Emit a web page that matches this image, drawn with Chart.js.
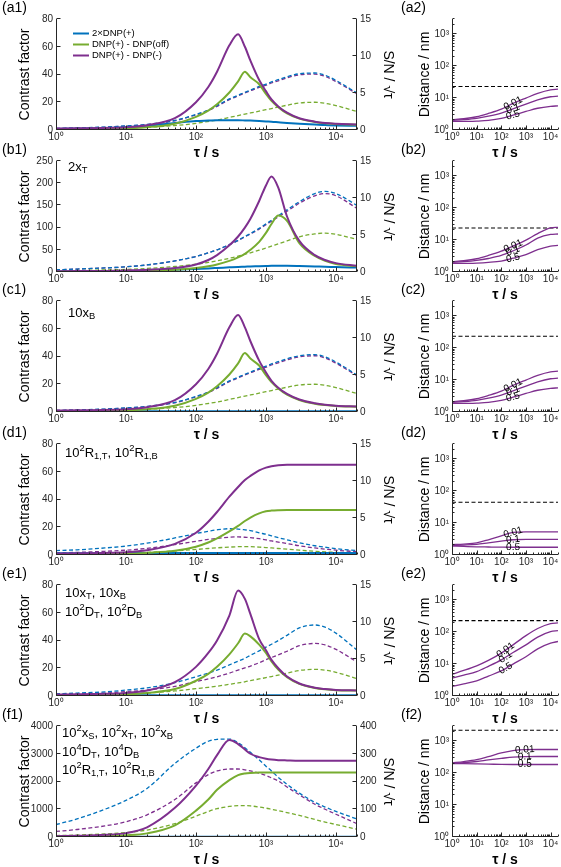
<!DOCTYPE html>
<html>
<head>
<meta charset="utf-8">
<script src="https://cdn.jsdelivr.net/npm/chart.js@4.4.0/dist/chart.umd.min.js"></script>
<style>
  body { margin: 0; width: 561px; height: 867px; position: relative; overflow: hidden; background: #fff;
         font-family: "Liberation Sans", Arial, sans-serif; }
  canvas { position: absolute; }
  .plabel { position: absolute; font-size: 14px; line-height: 16px; color: #000; }
</style>
</head>
<body>
<script>
// 横軸 τ (s)
const tau = [1, 2, 5, 10, 20, 50, 100, 150, 200, 300, 400, 500, 600, 800, 1000, 1200, 1500, 2000, 3000, 5000, 7000, 10000, 20000];
const tauR = [1, 3, 10, 30, 100, 300, 1000, 3000, 10000, 20000];

// (a1)
const a1Purple = [1, 1.2, 1.5, 2, 3.5, 8.5, 20, 31, 42, 61, 69, 60, 50, 36, 28, 22, 17, 12.5, 8.5, 6, 5, 4.5, 4];
const a1Green = [0.5, 0.6, 0.8, 1.2, 2, 4.5, 9.5, 14, 18.5, 27, 35, 42, 38, 33, 26, 21, 16.5, 12, 8.2, 5.8, 4.8, 4.3, 3.8];
const a1Blue = [0.8, 1, 1.4, 2, 3, 5, 6.5, 6.8, 7, 7, 7, 6.9, 6.8, 6.5, 6.2, 6, 5.6, 5.1, 4.5, 3.9, 3.6, 3.3, 3];
const a1BlueSN = [0.2, 0.28, 0.4, 0.55, 0.75, 1.3, 2.1, 2.7, 3.3, 4.2, 4.7, 5.1, 5.4, 5.9, 6.2, 6.5, 6.8, 7.2, 7.6, 7.7, 7.4, 6.7, 5.0];
const a1PurpleSN = [0.2, 0.27, 0.38, 0.53, 0.72, 1.25, 2.05, 2.65, 3.2, 4.1, 4.6, 5.0, 5.3, 5.75, 6.05, 6.35, 6.65, 7.05, 7.45, 7.55, 7.25, 6.55, 4.9];
const a1GreenSN = [0.1, 0.13, 0.2, 0.27, 0.37, 0.6, 0.9, 1.15, 1.35, 1.7, 1.95, 2.15, 2.3, 2.55, 2.75, 2.9, 3.1, 3.35, 3.65, 3.75, 3.6, 3.3, 2.5];

// (b1)
const b1Purple = [1.5, 2, 2.5, 3.5, 5, 9, 17, 27, 38, 60, 80, 100, 120, 160, 195, 215, 190, 125, 70, 38, 27, 20, 14];
const b1Green = [0.5, 0.7, 1, 1.5, 2.5, 5, 9, 13, 17, 25, 33, 41, 50, 68, 88, 108, 127, 115, 65, 36, 25, 18, 13];
const b1Blue = [1, 1.2, 1.6, 2, 3, 5, 7, 8, 9, 10.5, 11.5, 12, 12.5, 13, 13.5, 14, 14, 14, 13.5, 12.5, 12, 11, 10];
const b1BlueSN = [0.3, 0.4, 0.55, 0.7, 0.95, 1.5, 2.1, 2.6, 3.0, 3.7, 4.3, 4.8, 5.2, 5.9, 6.5, 7.0, 7.6, 8.4, 9.5, 10.6, 10.9, 10.6, 9.0];
const b1PurpleSN = [0.3, 0.4, 0.55, 0.7, 0.95, 1.5, 2.1, 2.6, 3.0, 3.7, 4.25, 4.75, 5.15, 5.8, 6.4, 6.85, 7.45, 8.2, 9.3, 10.3, 10.6, 10.3, 8.6];
const b1GreenSN = [0.15, 0.2, 0.28, 0.35, 0.48, 0.75, 1.05, 1.3, 1.5, 1.85, 2.15, 2.4, 2.6, 2.95, 3.25, 3.5, 3.8, 4.2, 4.75, 5.15, 5.25, 5.1, 4.4];

// (c1)
const c1Purple = [1, 1.2, 1.5, 2, 3.5, 8.5, 20, 31, 42, 61, 70, 61, 51, 37, 28.5, 22.5, 17.5, 13, 9, 6.3, 5.2, 4.5, 4];
const c1Green = [0.5, 0.6, 0.8, 1.2, 2, 4.5, 9.5, 14, 18.5, 27, 35, 42.5, 38.5, 33.5, 26.5, 21.5, 17, 12.5, 8.7, 6, 5, 4.3, 3.8];
const c1Blue = [0.5, 0.5, 0.5, 0.5, 0.5, 0.5, 0.5, 0.5, 0.5, 0.5, 0.5, 0.5, 0.5, 0.5, 0.5, 0.5, 0.5, 0.5, 0.5, 0.5, 0.5, 0.5, 0.5];
const c1BlueSN = [0.2, 0.28, 0.4, 0.55, 0.75, 1.3, 2.1, 2.7, 3.3, 4.2, 4.7, 5.1, 5.4, 5.9, 6.2, 6.5, 6.8, 7.2, 7.6, 7.75, 7.45, 6.75, 5.0];
const c1PurpleSN = [0.2, 0.27, 0.38, 0.53, 0.72, 1.25, 2.05, 2.65, 3.2, 4.1, 4.6, 5.0, 5.3, 5.75, 6.05, 6.35, 6.65, 7.05, 7.45, 7.6, 7.3, 6.6, 4.9];
const c1GreenSN = [0.1, 0.13, 0.2, 0.27, 0.37, 0.6, 0.9, 1.15, 1.35, 1.7, 1.95, 2.15, 2.3, 2.55, 2.75, 2.9, 3.1, 3.35, 3.65, 3.75, 3.6, 3.3, 2.5];

// (d1)
const d1Purple = [1, 1.2, 1.5, 2, 3.5, 8, 16, 24, 31, 42, 49, 54, 57, 61, 63, 64, 64.7, 65, 65, 65, 65, 65, 65];
const d1Green = [0.3, 0.4, 0.6, 0.8, 1.5, 3, 6, 9, 12, 17, 21, 24.5, 27, 30, 31.5, 32, 32.3, 32.5, 32.5, 32.5, 32.5, 32.5, 32.5];
const d1Blue = [1.2, 1.3, 1.4, 1.5, 1.5, 1.5, 1.5, 1.5, 1.5, 1.5, 1.5, 1.5, 1.5, 1.5, 1.5, 1.5, 1.5, 1.5, 1.5, 1.5, 1.5, 1.5, 1.5];
const d1BlueSN = [0.6, 0.7, 0.95, 1.2, 1.6, 2.3, 2.9, 3.2, 3.4, 3.55, 3.5, 3.4, 3.3, 3.0, 2.8, 2.6, 2.35, 2.05, 1.65, 1.25, 1.05, 0.85, 0.6];
const d1PurpleSN = [0.3, 0.35, 0.5, 0.65, 0.9, 1.4, 1.85, 2.1, 2.25, 2.4, 2.45, 2.4, 2.35, 2.2, 2.05, 1.9, 1.75, 1.55, 1.25, 0.95, 0.8, 0.65, 0.45];
const d1GreenSN = [0.1, 0.12, 0.18, 0.25, 0.35, 0.55, 0.75, 0.88, 0.97, 1.07, 1.12, 1.13, 1.12, 1.07, 1.0, 0.95, 0.88, 0.8, 0.65, 0.5, 0.42, 0.35, 0.25];

// (e1)
const e1Purple = [1, 1.2, 1.6, 2.2, 4, 10, 21, 31, 40, 58, 76, 70, 59, 41, 33, 26, 20, 14, 9, 6, 5, 4.3, 4];
const e1Green = [0.5, 0.6, 0.8, 1.2, 2.2, 5, 11, 16, 21, 30, 38, 45, 43, 37, 31, 25, 19, 13.5, 8.7, 5.8, 4.8, 4.2, 3.9];
const e1Blue = [0.5, 0.5, 0.5, 0.5, 0.5, 0.5, 0.5, 0.5, 0.5, 0.5, 0.5, 0.5, 0.5, 0.5, 0.5, 0.5, 0.5, 0.5, 0.5, 0.5, 0.5, 0.5, 0.5];
const e1BlueSN = [0.3, 0.4, 0.55, 0.8, 1.1, 1.8, 2.6, 3.1, 3.5, 4.2, 4.7, 5.1, 5.5, 6.1, 6.6, 7.0, 7.5, 8.2, 9.2, 9.6, 9.3, 8.5, 6.2];
const e1PurpleSN = [0.25, 0.3, 0.4, 0.6, 0.8, 1.3, 1.95, 2.3, 2.6, 3.1, 3.5, 3.8, 4.05, 4.5, 4.9, 5.2, 5.55, 6.05, 6.8, 7.1, 6.9, 6.3, 4.6];
const e1GreenSN = [0.1, 0.15, 0.2, 0.3, 0.4, 0.68, 1.0, 1.17, 1.32, 1.58, 1.77, 1.92, 2.07, 2.3, 2.48, 2.63, 2.82, 3.08, 3.45, 3.6, 3.5, 3.2, 2.35];

// (f1)
const f1Purple = [30, 45, 80, 140, 350, 1050, 1850, 2450, 2950, 3500, 3350, 3150, 3000, 2880, 2820, 2790, 2770, 2760, 2750, 2750, 2750, 2750, 2750];
const f1Green = [15, 20, 35, 60, 130, 420, 950, 1350, 1700, 2050, 2230, 2290, 2310, 2320, 2320, 2320, 2320, 2320, 2320, 2320, 2320, 2320, 2320];
const f1Blue = [8, 8, 8, 8, 8, 8, 8, 8, 8, 8, 8, 8, 8, 8, 8, 8, 8, 8, 8, 8, 8, 8, 8];
const f1BlueSN = [45, 65, 100, 132, 175, 265, 320, 345, 352, 353, 340, 322, 305, 278, 255, 238, 215, 190, 158, 125, 108, 92, 65];
const f1PurpleSN = [20, 27, 40, 55, 80, 135, 195, 225, 238, 245, 245, 242, 238, 230, 222, 213, 202, 180, 152, 118, 100, 82, 48];
const f1GreenSN = [5, 7, 11, 16, 25, 48, 75, 92, 102, 110, 113, 113, 112, 108, 104, 100, 95, 88, 78, 63, 54, 45, 28];

// 右側 Distance / nm
const fracLabels = ["0.01", "0.1", "0.5"];
const a2Dist = [[2.1, 2.25, 2.6, 3.3, 4.5, 6.8, 10, 14, 18, 19], [2.0, 2.1, 2.3, 2.7, 3.4, 4.6, 6.5, 8.8, 11, 11.5], [1.85, 1.85, 1.9, 2.0, 2.3, 2.9, 3.8, 4.8, 5.5, 5.7]];
const b2Dist = [[2.1, 2.25, 2.6, 3.3, 4.5, 6.5, 10, 16, 24, 25], [2.0, 2.1, 2.3, 2.65, 3.3, 4.6, 7, 11.5, 15, 15.5], [1.85, 1.85, 1.9, 2.0, 2.2, 2.7, 3.5, 5, 6.5, 6.8]];
const c2Dist = [[2.1, 2.25, 2.6, 3.3, 4.5, 6.8, 10, 14, 18, 19], [2.0, 2.1, 2.3, 2.7, 3.4, 4.6, 6.5, 8.8, 11, 11.5], [1.85, 1.85, 1.9, 2.0, 2.3, 2.9, 3.8, 4.8, 5.5, 5.7]];
const d2Dist = [[2.1, 2.2, 2.4, 3.0, 4.0, 5.1, 5.3, 5.3, 5.3, 5.3], [2.0, 2.05, 2.15, 2.4, 2.7, 3.0, 3.1, 3.1, 3.1, 3.1], [1.9, 1.85, 1.8, 1.78, 1.76, 1.75, 1.75, 1.75, 1.75, 1.75]];
const e2Dist = [[4.8, 6.3, 8.8, 13, 22, 40, 78, 130, 185, 194], [3.6, 4.5, 5.8, 8.5, 13.5, 23, 40, 70, 103, 111], [2.0, 2.4, 3.0, 4.2, 6.1, 10, 17, 30, 45, 51]];
const f2Dist = [[210, 230, 265, 330, 430, 510, 545, 550, 550, 550], [205, 215, 232, 260, 290, 318, 330, 332, 332, 332], [200, 198, 195, 192, 188, 187, 187, 187, 187, 187]];
const distLimit = [23, 24, 235, 45, 230, 2200];

const FONT = '"Liberation Sans", Arial, sans-serif';
const BLUE = "#0072BD", GREEN = "#77AC30", PURPLE = "#7E2F8E", AX = "#262626";
const SUP = ["⁰", "¹", "²", "³", "⁴"];
const plotTops = [19, 161, 301, 444, 585, 726];
const PH = 111;
const extra = new WeakMap();

function addCanvas(x, y, w, h) {
  const c = document.createElement("canvas");
  c.width = w;
  c.height = h;
  c.style.left = x + "px";
  c.style.top = y + "px";
  document.body.appendChild(c);
  return c;
}

function pts(xs, ys) {
  return xs.map((x, i) => ({ x: x, y: ys[i] }));
}

function series(data, color, dashed, axis, label, width) {
  return {
    label: label,
    data: data,
    yAxisID: axis,
    borderColor: color,
    backgroundColor: color,
    borderWidth: width || (dashed ? 1.3 : 2),
    borderDash: dashed ? [4, 2.5] : [],
    pointRadius: 0,
    cubicInterpolationMode: "monotone",
    fill: false,
  };
}

// 上付き・下付きの文字列
function richText(ctx, parts, x, y, size) {
  parts.forEach(([t, m]) => {
    const s = m ? size * 0.72 : size;
    ctx.font = s + "px " + FONT;
    const dy = m === "sup" ? -size * 0.36 : m === "sub" ? size * 0.28 : 0;
    ctx.fillText(t, x, y + dy);
    x += ctx.measureText(t).width;
  });
}

function logX() {
  return {
    type: "logarithmic",
    min: 1,
    max: 20000,
    afterBuildTicks: (s) => { s.ticks = [1, 10, 100, 1000, 10000].map((v) => ({ value: v })); },
    afterFit: (s) => { s.height = 34; },
    grid: { display: false, drawTicks: false },
    border: { display: false },
    ticks: {
      autoSkip: false, maxRotation: 0, padding: 1, color: AX,
      font: { family: FONT, size: 10 },
      callback: (v) => "10" + SUP[Math.round(Math.log10(v))],
    },
    title: { display: true, text: "τ / s", color: "#000", font: { family: FONT, size: 14, weight: "bold" }, padding: { top: 0, bottom: 2.6 } },
  };
}

function yTitle(text, pad) {
  return { display: true, text: text, color: "#000", font: { family: FONT, size: 14 }, padding: { top: pad, bottom: 0 } };
}

// 軸線と内向きの目盛り
const frame = {
  id: "frame",
  afterDatasetsDraw(chart) {
    const { ctx, chartArea: a, scales } = chart;
    const L = Math.round(a.left) + 0.5, B = Math.round(a.bottom) - 0.5, R = Math.round(a.right) - 0.5;
    ctx.save();
    ctx.strokeStyle = AX;
    ctx.lineWidth = 1;
    ctx.beginPath();
    ctx.moveTo(L, a.top);
    ctx.lineTo(L, B);
    ctx.lineTo(a.right, B);
    if (scales.y2) {
      ctx.moveTo(R, a.top);
      ctx.lineTo(R, B);
    }
    const x = scales.x;
    for (let e = 0; e <= 4; e++) {
      for (let m = 1; m <= 9; m++) {
        const v = m * Math.pow(10, e);
        if (v > x.max) break;
        const px = Math.round(x.getPixelForValue(v)) + 0.5;
        ctx.moveTo(px, B);
        ctx.lineTo(px, B - (m === 1 ? 4 : 2));
      }
    }
    const y = scales.y;
    if (y.type === "logarithmic") {
      for (let e = 0; e <= 3; e++) {
        for (let m = 1; m <= 9; m++) {
          const v = m * Math.pow(10, e);
          if (v > y.max) break;
          const py = Math.round(y.getPixelForValue(v)) - 0.5;
          ctx.moveTo(L, py);
          ctx.lineTo(L + (m === 1 ? 4 : 2), py);
        }
      }
    } else {
      y.ticks.forEach((t) => {
        const py = Math.round(y.getPixelForValue(t.value)) - 0.5;
        ctx.moveTo(L, py);
        ctx.lineTo(L + 4, py);
      });
    }
    if (scales.y2) {
      scales.y2.ticks.forEach((t) => {
        const py = Math.round(scales.y2.getPixelForValue(t.value)) - 0.5;
        ctx.moveTo(R, py);
        ctx.lineTo(R - 4, py);
      });
    }
    ctx.stroke();
    ctx.restore();
  },
};

// 注記・凡例・曲線ラベル
const notes = {
  id: "notes",
  afterDraw(chart) {
    const opt = extra.get(chart.canvas);
    if (!opt) return;
    const { ctx, chartArea: a } = chart;
    ctx.save();
    ctx.textBaseline = "middle";
    ctx.fillStyle = "#000";
    (opt.lines || []).forEach((ln) => richText(ctx, ln.parts, a.left + ln.dx, a.top + ln.dy, 13));
    if (opt.legend) {
      opt.legend.forEach((idx, k) => {
        const ds = chart.data.datasets[idx];
        const yy = a.top + 14.5 + k * 11;
        ctx.strokeStyle = ds.borderColor;
        ctx.lineWidth = 2;
        ctx.beginPath();
        ctx.moveTo(a.left + 17, yy);
        ctx.lineTo(a.left + 33, yy);
        ctx.stroke();
        ctx.fillStyle = "#000";
        ctx.font = "9.5px " + FONT;
        ctx.fillText(ds.label, a.left + 36, yy);
      });
    }
    if (opt.labelTau) {
      ctx.font = "10px " + FONT;
      ctx.textAlign = "center";
      [0, 1, 2].forEach((i) => {
        const p = chart.getDatasetMeta(i).data;
        const px = chart.scales.x.getPixelForValue(opt.labelTau);
        let j = 0;
        while (j < p.length - 2 && p[j + 1].x < px) j++;
        const f = (px - p[j].x) / (p[j + 1].x - p[j].x);
        const py = p[j].y + f * (p[j + 1].y - p[j].y);
        const ang = Math.atan2(p[j + 1].y - p[j].y, p[j + 1].x - p[j].x);
        ctx.save();
        ctx.translate(px, py);
        ctx.rotate(ang);
        ctx.fillText(chart.data.datasets[i].label, 0, 0);
        ctx.restore();
      });
    }
    ctx.restore();
  },
};

function leftChart(row, s, yMax, yStep, y2Max, y2Step, opt) {
  const top = plotTops[row];
  const cv = addCanvas(0, top - 9, 400, 9 + PH + 34);
  if (opt) extra.set(cv, opt);
  new Chart(cv, {
    type: "line",
    data: {
      datasets: [
        series(pts(tau, s[0]), PURPLE, false, "y", "DNP(+) - DNP(-)"),
        series(pts(tau, s[1]), GREEN, false, "y", "DNP(+) - DNP(off)"),
        series(pts(tau, s[2]), BLUE, false, "y", "2×DNP(+)"),
        series(pts(tau, s[3]), BLUE, true, "y2", ""),
        series(pts(tau, s[4]), PURPLE, true, "y2", ""),
        series(pts(tau, s[5]), GREEN, true, "y2", ""),
      ],
    },
    options: {
      responsive: false,
      animation: false,
      devicePixelRatio: 1,
      layout: { padding: { top: 9, left: 0, right: 0, bottom: 0 } },
      plugins: { legend: { display: false }, tooltip: { enabled: false } },
      scales: {
        x: logX(),
        y: {
          position: "left", min: 0, max: yMax,
          afterFit: (sc) => { sc.width = 56; },
          grid: { display: false, drawTicks: false }, border: { display: false },
          ticks: { stepSize: yStep, padding: 3, color: AX, font: { family: FONT, size: 10 }, callback: (v) => String(v) },
          title: yTitle("Contrast factor", 16.6),
        },
        y2: {
          position: "right", min: 0, max: y2Max,
          afterFit: (sc) => { sc.width = 43; },
          grid: { display: false, drawTicks: false }, border: { display: false },
          ticks: { stepSize: y2Step, padding: 3, color: AX, font: { family: FONT, size: 10 }, callback: (v) => String(v) },
          title: yTitle("S/N / √τ", 3.6),
        },
      },
    },
    plugins: [frame, notes],
  });
}

function rightChart(row, dist, limit, labelTau) {
  const top = plotTops[row];
  const cv = addCanvas(400, top - 9, 161, 9 + PH + 34);
  extra.set(cv, { labelTau: labelTau });
  const ds = dist.map((d, k) => series(pts(tauR, d), PURPLE, false, "y", fracLabels[k], 1.3));
  ds.push(series(pts([1, 20000], [limit, limit]), "#000", true, "y", "", 1.1));
  new Chart(cv, {
    type: "line",
    data: { datasets: ds },
    options: {
      responsive: false,
      animation: false,
      devicePixelRatio: 1,
      layout: { padding: { top: 9, left: 0, right: 3, bottom: 0 } },
      plugins: { legend: { display: false }, tooltip: { enabled: false } },
      scales: {
        x: logX(),
        y: {
          type: "logarithmic", min: 1, max: 3000,
          afterBuildTicks: (s) => { s.ticks = [1, 10, 100, 1000].map((v) => ({ value: v })); },
          afterFit: (sc) => { sc.width = 52; },
          grid: { display: false, drawTicks: false }, border: { display: false },
          ticks: { padding: 3, color: AX, font: { family: FONT, size: 10 }, callback: (v) => "10" + SUP[Math.round(Math.log10(v))] },
          title: yTitle("Distance / nm", 16.6),
        },
      },
    },
    plugins: [frame, notes],
  });
}

leftChart(0, [a1Purple, a1Green, a1Blue, a1BlueSN, a1PurpleSN, a1GreenSN], 80, 20, 15, 5, { legend: [2, 1, 0] });
leftChart(1, [b1Purple, b1Green, b1Blue, b1BlueSN, b1PurpleSN, b1GreenSN], 250, 50, 15, 5,
  { lines: [{ dx: 12, dy: 6, parts: [["2x", 0], ["T", "sub"]] }] });
leftChart(2, [c1Purple, c1Green, c1Blue, c1BlueSN, c1PurpleSN, c1GreenSN], 80, 20, 15, 5,
  { lines: [{ dx: 12, dy: 12, parts: [["10x", 0], ["B", "sub"]] }] });
leftChart(3, [d1Purple, d1Green, d1Blue, d1BlueSN, d1PurpleSN, d1GreenSN], 80, 20, 15, 5,
  { lines: [{ dx: 9, dy: 9, parts: [["10", 0], ["2", "sup"], ["R", 0], ["1,T", "sub"], [", 10", 0], ["2", "sup"], ["R", 0], ["1,B", "sub"]] }] });
leftChart(4, [e1Purple, e1Green, e1Blue, e1BlueSN, e1PurpleSN, e1GreenSN], 80, 20, 15, 5,
  { lines: [
    { dx: 9, dy: 8, parts: [["10x", 0], ["T", "sub"], [", 10x", 0], ["B", "sub"]] },
    { dx: 9, dy: 27, parts: [["10", 0], ["2", "sup"], ["D", 0], ["T", "sub"], [", 10", 0], ["2", "sup"], ["D", 0], ["B", "sub"]] },
  ] });
leftChart(5, [f1Purple, f1Green, f1Blue, f1BlueSN, f1PurpleSN, f1GreenSN], 4000, 1000, 400, 100,
  { lines: [
    { dx: 6, dy: 7, parts: [["10", 0], ["2", "sup"], ["x", 0], ["S", "sub"], [", 10", 0], ["2", "sup"], ["x", 0], ["T", "sub"], [", 10", 0], ["2", "sup"], ["x", 0], ["B", "sub"]] },
    { dx: 6, dy: 26, parts: [["10", 0], ["4", "sup"], ["D", 0], ["T", "sub"], [", 10", 0], ["4", "sup"], ["D", 0], ["B", "sub"]] },
    { dx: 6, dy: 44, parts: [["10", 0], ["2", "sup"], ["R", 0], ["1,T", "sub"], [", 10", 0], ["2", "sup"], ["R", 0], ["1,B", "sub"]] },
  ] });

rightChart(0, a2Dist, distLimit[0], 300);
rightChart(1, b2Dist, distLimit[1], 300);
rightChart(2, c2Dist, distLimit[2], 300);
rightChart(3, d2Dist, distLimit[3], 300);
rightChart(4, e2Dist, distLimit[4], 150);
rightChart(5, f2Dist, distLimit[5], 900);

// パネル記号
"abcdef".split("").forEach((c, i) => {
  [[c + "1", 2], [c + "2", 401]].forEach(([t, x]) => {
    const d = document.createElement("div");
    d.className = "plabel";
    d.textContent = "(" + t + ")";
    d.style.left = x + "px";
    d.style.top = plotTops[i] - 12.5 - 8 + "px";
    document.body.appendChild(d);
  });
});
</script>
</body>
</html>
